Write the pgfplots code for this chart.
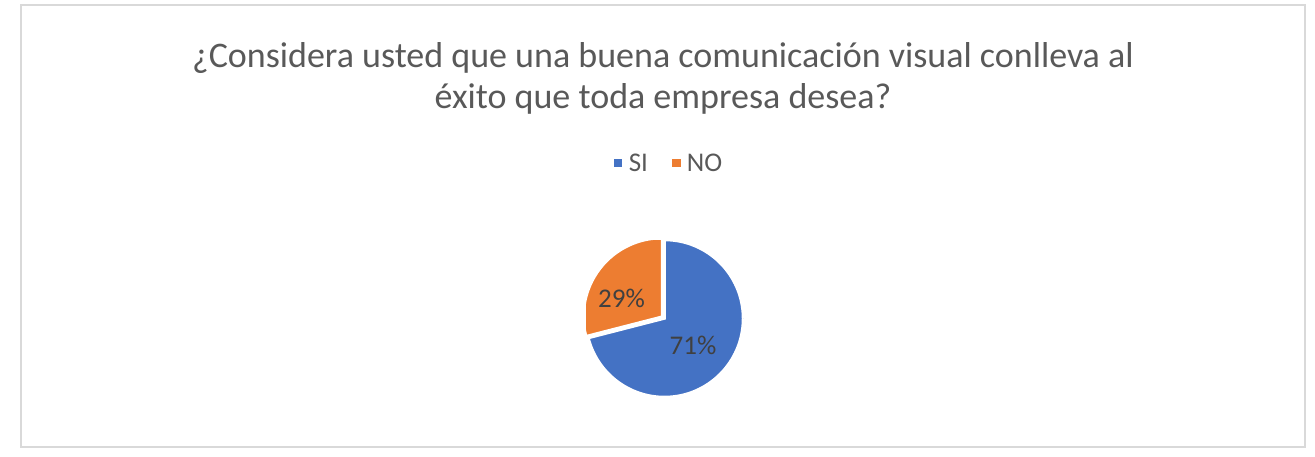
\documentclass[border=0pt]{standalone}
\usepackage{fontspec}
\setmainfont{Carlito}
\usepackage{pgfplots}
\usepackage{pgfplotstable}
\pgfplotsset{compat=1.18}
\usetikzlibrary{calc}

\definecolor{siblue}{HTML}{4472C4}
\definecolor{noorange}{HTML}{ED7D31}
\definecolor{titlegray}{HTML}{595959}
\definecolor{labelgray}{HTML}{404040}
\definecolor{framegray}{HTML}{D9D9D9}

\pgfplotstableread{
label value
SI 71
NO 29
}\piedata

\begin{document}
\begin{tikzpicture}[x=1pt,y=1pt]
  % page size and chart frame
  \path (0,0) rectangle (1315,456);
  \draw[framegray, line width=1.2pt] (21,9) rectangle (1305,451);

  \node[text=titlegray, font=\fontsize{36}{41}\selectfont, align=center]
    at (663,378) {¿Considera usted que una buena comunicación visual conlleva al\\
    éxito que toda empresa desea?};

  \pgfplotstablegetelem{0}{value}\of\piedata \let\vSI\pgfplotsretval
  \pgfplotstablegetelem{1}{value}\of\piedata \let\vNO\pgfplotsretval
  \pgfmathsetmacro\aSI{3.6*\vSI}
  \pgfmathsetmacro\aEnd{90-\aSI}
  \pgfmathsetmacro\aMidNO{90+1.8*\vNO}

  \begin{axis}[
    at={(664.5pt,137.5pt)}, anchor=center,
    scale only axis, width=157pt, height=157pt,
    xmin=-1, xmax=1, ymin=-1, ymax=1,
    hide axis,
    legend columns=2,
    legend style={at={(0.529,1.49)}, anchor=center, draw=none, fill=none,
      font=\fontsize{27}{29}\selectfont, text=titlegray,
      /tikz/every odd column/.append style={column sep=5pt},
      /tikz/every even column/.append style={column sep=22pt}},
  ]
    \addlegendimage{legend image code/.code={\fill[siblue] (0pt,-3.5pt) rectangle (7.5pt,3.5pt);}}
    \addlegendentry{SI}
    \addlegendimage{legend image code/.code={\fill[noorange] (0pt,-3.5pt) rectangle (7.5pt,3.5pt);}}
    \addlegendentry{NO}

    \fill[siblue, draw=white, line width=2.5pt]
      (axis cs:0,0) -- ++(90:78.5pt) arc[start angle=90, end angle=\aEnd, radius=78.5pt] -- cycle;
    \fill[noorange, draw=white, line width=2.5pt]
      ($(axis cs:0,0)+(\aMidNO:3pt)$) -- ++(\aEnd:78.5pt) arc[start angle=\aEnd, end angle=-270, radius=78.5pt] -- cycle;

    \node[text=labelgray, font=\fontsize{27}{30}\selectfont] at ($(axis cs:0,0)+(-43pt,20.5pt)$) {\vNO\%};
    \node[text=labelgray, font=\fontsize{27}{30}\selectfont] at ($(axis cs:0,0)+(28.5pt,-26.5pt)$) {\vSI\%};
  \end{axis}
\end{tikzpicture}
\end{document}
